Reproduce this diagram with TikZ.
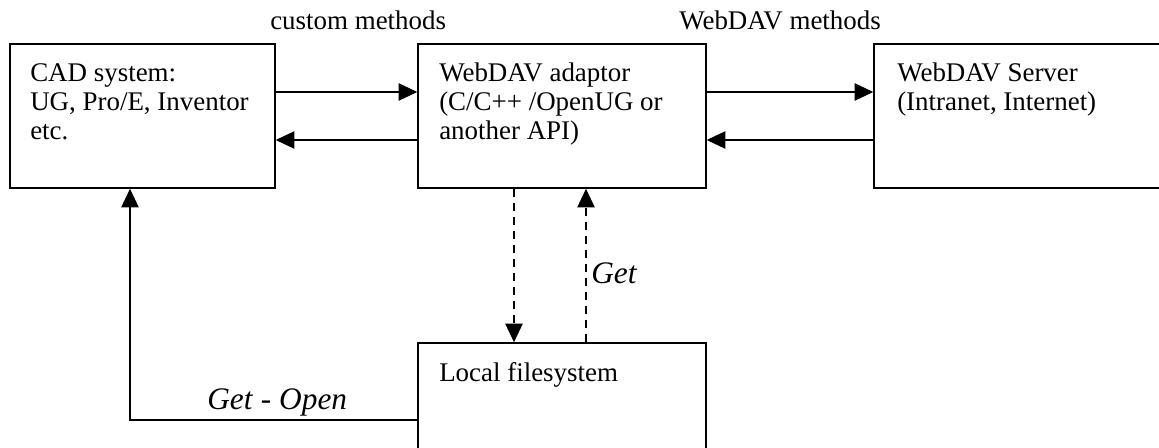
\documentclass[tikz,border=0pt]{standalone}
\usepackage{fontspec}
\setmainfont{Liberation Serif}
\usetikzlibrary{arrows.meta,fit}
\begin{document}
\begin{tikzpicture}[x=0.75pt,y=-0.75pt,
  box/.style={draw,line width=1.1pt,inner sep=0pt,rectangle},
  txt/.style={inner sep=0pt,anchor=base west,align=left,font=\fontsize{20.2}{21.75}\selectfont},
  itxt/.style={inner sep=0pt,anchor=base west,font=\fontsize{23.5}{25}\selectfont\itshape},
  arr/.style={line width=1.1pt,-{Triangle[length=14pt,width=13pt]}},
  darr/.style={arr,dash pattern=on 6.5pt off 4pt}]
\useasboundingbox (0,0) rectangle (1159,448);
\clip (0,0) rectangle (1159,448);
% boxes
\node[box,fit={(10,44) (275,188)}] (cad) {};
\node[box,fit={(418,44) (706,188)}] (adp) {};
\node[box,fit={(874,44) (1185,188)}] (srv) {};
\node[box,fit={(418,343) (706,480)}] (loc) {};
% box texts (anchor at baseline of last line)
\node[txt] (cadt) at (30,140) {CAD system:\\UG, Pro/E, Inventor\\etc.};
\node[txt] (adpt) at (439,140) {WebDAV adaptor\\(C/C++ /OpenUG or\\another API)};
\node[txt] (srvt) at (897,111) {WebDAV Server\\(Intranet, Internet)};
\node[txt] (loct) at (439,382) {Local filesystem};
% helper coordinates
\coordinate (yA) at (0,92);
\coordinate (yB) at (0,140);
\coordinate (xD) at (514,0);
\coordinate (xU) at (586,0);
\coordinate (yG) at (0,420);
\coordinate (xG) at (130,0);
% connectors
\draw[arr] (cad.east |- yA) -- (adp.west |- yA);
\draw[arr] (adp.west |- yB) -- (cad.east |- yB);
\draw[arr] (adp.east |- yA) -- (srv.west |- yA);
\draw[arr] (srv.west |- yB) -- (adp.east |- yB);
\draw[darr] (adp.south -| xD) -- (loc.north -| xD);
\draw[darr] (loc.north -| xU) -- (adp.south -| xU);
\draw[arr] (loc.west |- yG) -| (cad.south -| xG);
% labels
\node[txt] (lcm) at (270,30) {custom methods};
\node[txt] (lwm) at (679,30) {WebDAV methods};
\node[itxt] (lget) at (591,284) {Get};
\node[itxt] (lgo) at (207,410) {Get\/ \upshape-\itshape{} Open};
\end{tikzpicture}
\end{document}
